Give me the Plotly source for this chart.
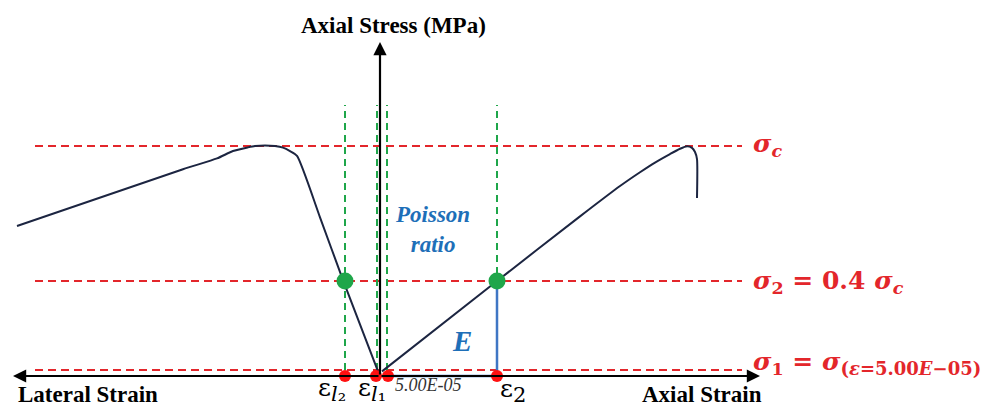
import plotly.graph_objects as go

# ---- data (strain in schematic units, stress in MPa) ----
lateral_strain = [-2, -37, -60, -83, -90, -97, -105, -115, -125, -132, -147, -163, -197, -363]
lateral_stress = [2, 41.7, 69, 95.7, 97.8, 99.3, 100, 100.2, 100, 99.4, 97.8, 94.6, 89.9, 65.2]

axial_strain = [2, 117, 200, 240, 260, 275, 290, 300, 307, 312, 315, 317, 317]
axial_stress = [2, 41.3, 69.4, 82.6, 88.6, 92.8, 96.5, 98.8, 99.9, 99.2, 97.4, 94.3, 77.4]

sigma_levels = [100, 41.3, 2.6]          # sigma_c, sigma_2, sigma_1
sigma_line_x = [-345, 362]
strain_marks = [-35, -3, 7, 117]           # eps_l2, eps_l1, eps=5E-05, eps_2
strain_mark_top = 117.8
red_dot_x = [-35, -4, 8, 117]
green_dot_x = [-35, 117]
green_dot_y = [41.3, 41.3]
modulus_x = [7, 117, 117]
modulus_y = [0, 0, 41.3]

axis_y_top = 145.2
axis_x_left = -367
axis_x_right = 380

X_RANGE = [-380, 617]
Y_RANGE = [(376 - 408) / 2.3, 376 / 2.3]

RED = "#e3262b"
GREEN = "#1fa64a"
BLUE = "#3f76c4"
TXT_BLUE = "#1e6fb8"
CURVE = "#1c2541"

fig = go.Figure()

for s in sigma_levels:
    fig.add_trace(go.Scatter(x=sigma_line_x, y=[s, s], mode="lines",
                             line=dict(color=RED, width=2, dash="8px,5px"),
                             hoverinfo="skip", showlegend=False))

for xm in strain_marks:
    fig.add_trace(go.Scatter(x=[xm, xm], y=[sigma_levels[2], strain_mark_top], mode="lines",
                             line=dict(color=GREEN, width=2, dash="7px,5px"),
                             hoverinfo="skip", showlegend=False))

fig.add_trace(go.Scatter(x=lateral_strain, y=lateral_stress, mode="lines",
                         line=dict(color=CURVE, width=2, shape="spline", smoothing=0.6),
                         hoverinfo="skip", showlegend=False))
fig.add_trace(go.Scatter(x=axial_strain, y=axial_stress, mode="lines",
                         line=dict(color=CURVE, width=2, shape="spline", smoothing=0.6),
                         hoverinfo="skip", showlegend=False))

fig.add_trace(go.Scatter(x=modulus_x, y=modulus_y, mode="lines",
                         line=dict(color=BLUE, width=2.5),
                         hoverinfo="skip", showlegend=False))

ann = []
for (hx, hy) in [(0, axis_y_top), (axis_x_left, 0), (axis_x_right, 0)]:
    ann.append(dict(x=hx, y=hy, ax=0, ay=0, xref="x", yref="y", axref="x", ayref="y",
                    showarrow=True, arrowhead=2, arrowsize=1.2, arrowwidth=2.2, arrowcolor="black",
                    standoff=0, startstandoff=0, text=""))

fig.add_trace(go.Scatter(x=red_dot_x, y=[0] * len(red_dot_x), mode="markers",
                         marker=dict(color="#ff1010", size=12, line=dict(width=0)),
                         hoverinfo="skip", showlegend=False))
fig.add_trace(go.Scatter(x=green_dot_x, y=green_dot_y, mode="markers",
                         marker=dict(color=GREEN, size=17, line=dict(width=0)),
                         hoverinfo="skip", showlegend=False))

SERIF = "Liberation Serif, Times New Roman, serif"
SERIF_B = dict(family=SERIF, size=23, color="black")
MATH_R = dict(family="DejaVu Serif, serif", size=25, color=RED)

def t(x, y, text, font, xanchor="center", yanchor="middle"):
    ann.append(dict(x=x, y=y, xref="x", yref="y", text=text, showarrow=False,
                    font=font, xanchor=xanchor, yanchor=yanchor, borderpad=0))

t(13, 152.6, "<b>Axial Stress (MPa)</b>", SERIF_B)
t(-292, Y_RANGE[0], "<b>Lateral Strain</b>", SERIF_B, yanchor="bottom")
t(322, Y_RANGE[0], "<b>Axial Strain</b>", SERIF_B, yanchor="bottom")

t(372, 100.4, "<b><i>σ<sub>c</sub></i></b>", MATH_R, xanchor="left")
t(372, 41.0, "<b><i>σ</i><sub>2</sub> = 0.4 <i>σ<sub>c</sub></i></b>", MATH_R, xanchor="left")
t(372, 5.6, "<b><i>σ</i><sub>1</sub> = <i>σ</i><sub><span style='font-size:18px'>(<i>ε</i>=5.00<i>E</i>−05)</span></sub></b>",
  MATH_R, xanchor="left")

t(52, 63.5, "<b><i>Poisson<br>ratio</i></b>", dict(family=SERIF, size=23, color=TXT_BLUE))
t(82, 15.2, "<b><i>E</i></b>", dict(family=SERIF, size=29, color=TXT_BLUE))

EPS = dict(family="DejaVu Serif, serif", size=25, color="black")
t(-48, -5.8, "ε<sub><span style='font-size:21px'><i>l</i>₂</span></sub>", EPS)
t(-8, -5.8, "ε<sub><span style='font-size:21px'><i>l</i>₁</span></sub>", EPS)
t(48, -3.9, "<i>5.00E-05</i>", dict(family=SERIF, size=18, color="#333333"))
t(133, -6.3, "ε<sub><span style='font-size:21px'>2</span></sub>", EPS)

fig.update_layout(
    width=997, height=408,
    margin=dict(l=0, r=0, t=0, b=0),
    paper_bgcolor="white", plot_bgcolor="white",
    xaxis=dict(range=X_RANGE, visible=False, fixedrange=True),
    yaxis=dict(range=Y_RANGE, visible=False, fixedrange=True),
    annotations=ann,
    showlegend=False,
)

fig.write_html("out.html")
